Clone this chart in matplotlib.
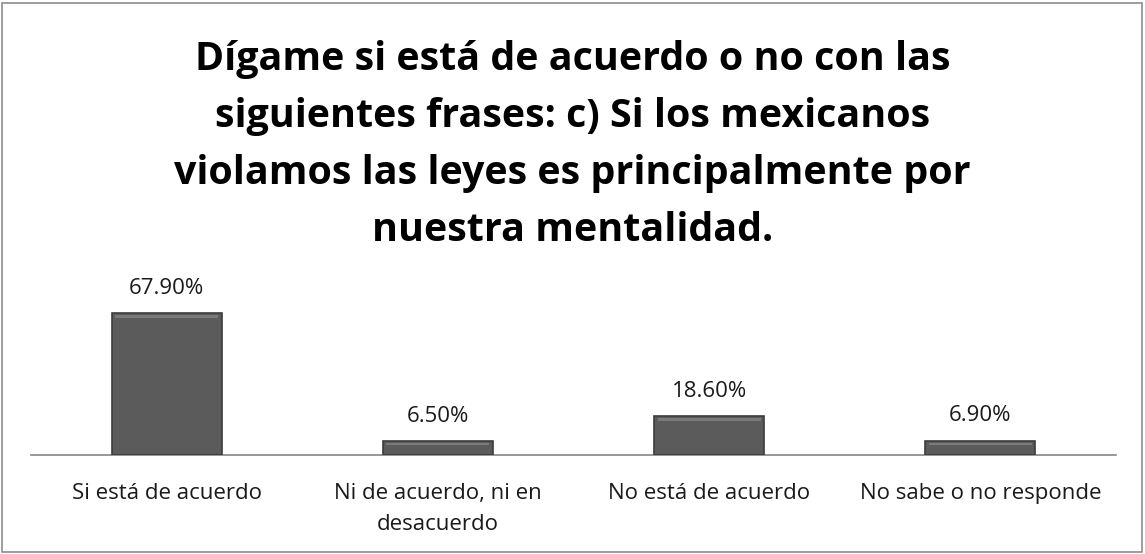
import matplotlib.pyplot as plt
from matplotlib.patches import Rectangle

categorias = ["Si está de acuerdo", "Ni de acuerdo, ni en\ndesacuerdo",
              "No está de acuerdo", "No sabe o no responde"]
valores = [67.9, 6.5, 18.6, 6.9]
etiquetas = ["67.90%", "6.50%", "18.60%", "6.90%"]
titulo = ("Dígame si está de acuerdo o no con las\n"
          "siguientes frases: c) Si los mexicanos\n"
          "violamos las leyes es principalmente por\n"
          "nuestra mentalidad.")

W, H = 1145, 554
fig = plt.figure(figsize=(W / 100, H / 100), dpi=100)
fig.patches.append(Rectangle((2 / W, 2 / H), 1 - 5 / W, 1 - 5 / H, transform=fig.transFigure,
                             fill=False, edgecolor='#8c8c8c', linewidth=1.2))

# ejes: base en y=455, 0..80 -> 2.09 px por unidad
x0, x1 = 31, 1116
y_base = 455
top = y_base - 80 * 2.09
ax = fig.add_axes([x0 / W, 1 - y_base / H, (x1 - x0) / W, (y_base - top) / H])
ax.set_xlim(-0.5, 3.5)
ax.set_ylim(0, 80)

pos = range(len(valores))
ax.bar(pos, valores, width=0.405, color='#5b5b5b', edgecolor='#3c3c3c', linewidth=1.2, zorder=3)
# brillo superior para imitar el bisel
for i, v in zip(pos, valores):
    ax.add_patch(Rectangle((i - 0.19, v - min(2.2, v * 0.3)), 0.38, min(1.2, v * 0.15),
                           color='#7a7a7a', linewidth=0, zorder=4))
    ax.text(i, v + 12.0, etiquetas[i], ha='center', va='center', fontsize=16,
            family='Open Sans', color='#1a1a1a')

for s in ['top', 'right', 'left']:
    ax.spines[s].set_visible(False)
ax.spines['bottom'].set_color('#868686')
ax.spines['bottom'].set_linewidth(1.2)
ax.set_yticks([])
ax.set_xticks(list(pos))
ax.set_xticklabels(categorias, fontsize=16, family='Open Sans', color='#1a1a1a', linespacing=1.65)
ax.tick_params(axis='x', length=0, pad=20)

fig.text(0.5, 1 - 145 / H, titulo, ha='center', va='center', fontsize=28.4, fontweight='bold',
         family='Open Sans', linespacing=1.6, color='black')

fig.savefig('out.png', dpi=100)
